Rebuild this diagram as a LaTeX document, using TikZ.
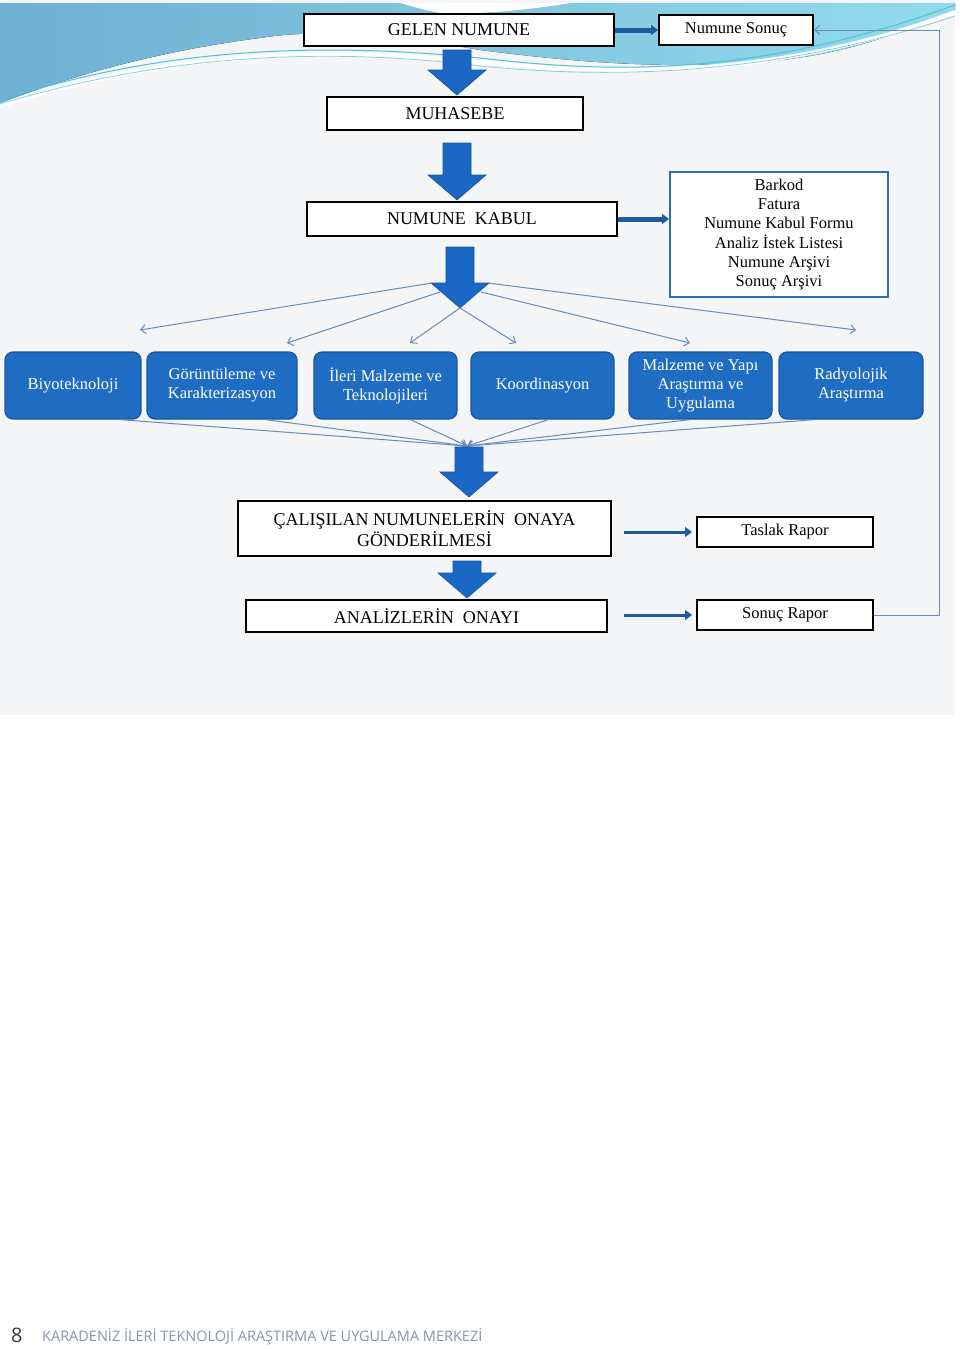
\documentclass[tikz,border=0pt]{standalone}
\usepackage{fontspec}
\setmainfont{Liberation Serif}
\newfontfamily\footfont{Open Sans}
\usetikzlibrary{arrows.meta,calc}
\definecolor{panel}{HTML}{F3F5F7}
\definecolor{waveL}{HTML}{6FB0D2}
\definecolor{waveR}{HTML}{92DBEC}
\definecolor{waveline}{HTML}{4FC0D8}
\definecolor{unitblue}{HTML}{1E6DC3}
\definecolor{unitedge}{HTML}{1A549A}
\definecolor{bigblue}{HTML}{1B68C4}
\definecolor{sideblue}{HTML}{1F5B9F}
\definecolor{thinblue}{HTML}{6A8DB8}
\definecolor{listedge}{HTML}{2C6CB2}
\definecolor{footgrey}{HTML}{8696A8}
\definecolor{pagenum}{HTML}{3A3A3A}
\tikzset{
  stepbox/.style={draw=black, line width=2pt, fill=white, inner sep=0pt, align=center, font=\fontsize{18}{21}\selectfont},
  smallbox/.style={stepbox, font=\fontsize{16.5}{19}\selectfont},
  listbox/.style={draw=listedge, line width=2pt, fill=white, inner sep=0pt, align=center, font=\fontsize{16.5}{19.2}\selectfont},
  unitbox/.style={draw=unitedge, line width=1.2pt, fill=unitblue, rounded corners=8pt, text=white, inner sep=0pt, align=center, minimum height=67pt, font=\fontsize{16.5}{19}\selectfont},
  bigarrow/.style={fill=bigblue, draw=bigblue!80!black, line width=0.6pt, line join=miter},
  sidearrow/.style={draw=sideblue, line width=3pt, -{Triangle[length=7pt,width=10pt]}},
  fanline/.style={draw=thinblue, line width=1pt, -{Straight Barb[length=5pt,width=9pt]}},
  backline/.style={draw=thinblue, line width=1pt, -{Straight Barb[length=5pt,width=9pt]}},
}
% block arrow pointing down: x, top y, tip y
\newcommand{\bigdown}[3]{%
  \filldraw[bigarrow] (#1-14,#2) -- (#1+14,#2) -- (#1+14,#3-25) -- (#1+29,#3-25)
    -- (#1,#3) -- (#1-29,#3-25) -- (#1-14,#3-25) -- cycle;}

\begin{document}
\begin{tikzpicture}[x=1pt, y=-1pt]
  \useasboundingbox (0,0) rectangle (960,1349);
  % panel and top waves
  \fill[panel] (0,0) rectangle (955,715);
  \fill[left color=waveL, right color=waveR] (0,3) -- (955,3) -- (955,10)
    .. controls (900,32) and (850,55) .. (760,62)
    .. controls (650,70) and (560,60) .. (480,50)
    .. controls (400,36) and (320,28) .. (260,38)
    .. controls (150,52) and (60,80) .. (0,103) -- cycle;
  \fill[white] (400,3) -- (570,3) .. controls (530,10) and (480,14) .. (445,14)
    .. controls (425,10) .. (400,3);
  \draw[white, line width=4pt] (0,106) .. controls (150,58) and (300,44) .. (480,62)
    .. controls (620,76) and (780,78) .. (955,12);
  \draw[waveline, line width=1pt] (0,100) .. controls (150,52) and (300,40) .. (480,58)
    .. controls (600,72) and (750,80) .. (955,5);
  \draw[waveline!70!white, line width=0.8pt] (0,104) .. controls (160,56) and (320,46) .. (480,66)
    .. controls (620,80) and (780,74) .. (955,16);

  % main column
  \node[stepbox, minimum width=310pt, minimum height=32pt] (gelen) at (459,30) {GELEN NUMUNE};
  \node[smallbox, minimum width=154pt, minimum height=30pt] (nsonuc) at (736,30) {Numune Sonuç};
  \bigdown{457}{50}{95}
  \node[stepbox, minimum width=256pt, minimum height=33pt] (muh) at (455,113.5) {MUHASEBE};
  \bigdown{457}{143}{200}
  \node[stepbox, minimum width=310pt, minimum height=34pt] (kabul) at (462,219) {NUMUNE\ \ KABUL};
  \node[listbox, minimum width=218pt, minimum height=125pt] (liste) at (779,234.5)
    {Barkod\\Fatura\\Numune Kabul Formu\\Analiz İstek Listesi\\Numune Arşivi\\Sonuç Arşivi};
  \bigdown{460}{247}{308}

  \draw[sidearrow, line width=5pt] (gelen) -- (nsonuc);
  \draw[sidearrow, line width=5pt] (kabul.east) -- (kabul.east -| liste.west);

  % units
  \node[unitbox, minimum width=136pt] (u1) at (73,385.5) {Biyoteknoloji};
  \node[unitbox, minimum width=150pt] (u2) at (222,385.5) {Görüntüleme ve\\Karakterizasyon};
  \node[unitbox, minimum width=143pt] (u3) at (385.5,385.5) {İleri Malzeme ve\\Teknolojileri};
  \node[unitbox, minimum width=143pt] (u4) at (542.5,385.5) {Koordinasyon};
  \node[unitbox, minimum width=143pt] (u5) at (700.5,385.5) {Malzeme ve Yapı\\Araştırma ve\\Uygulama};
  \node[unitbox, minimum width=144pt] (u6) at (851,385.5) {Radyolojik\\Araştırma};

  % fan out
  \coordinate (hl1) at (432,283);
  \coordinate (hl2) at (440,292);
  \coordinate (htip) at (460,308);
  \coordinate (hr2) at (481,292);
  \coordinate (hr1) at (488,283);
  \coordinate (f1) at (140,330);
  \coordinate (f2) at (287,343);
  \coordinate (f3) at (410,343);
  \coordinate (f4) at (516,343);
  \coordinate (f5) at (690,343);
  \coordinate (f6) at (856,330);
  \draw[fanline] (hl1) -- (f1);
  \draw[fanline] (hl2) -- (f2);
  \draw[fanline] (htip) -- (f3);
  \draw[fanline] (htip) -- (f4);
  \draw[fanline] (hr2) -- (f5);
  \draw[fanline] (hr1) -- (f6);

  % fan in
  \coordinate (mrg) at (467,446);
  \draw[fanline] ([xshift=47pt]u1.south) -- (mrg);
  \draw[fanline] ([xshift=43pt]u2.south) -- (mrg);
  \draw[fanline] ([xshift=25pt]u3.south) -- (mrg);
  \draw[fanline] ([xshift=6pt]u4.south) -- (mrg);
  \draw[fanline] ([xshift=-10pt]u5.south) -- (mrg);
  \draw[fanline] ([xshift=-36pt]u6.south) -- (mrg);

  \bigdown{469}{447}{497}
  \node[stepbox, minimum width=373pt, minimum height=55pt] (calis) at (424.5,528.5)
    {ÇALIŞILAN NUMUNELERİN\ \ ONAYA\\GÖNDERİLMESİ};
  \node[smallbox, minimum width=176pt, minimum height=30pt] (taslak) at (785,532) {Taslak Rapor};
  \bigdown{467}{561}{598}
  \node[stepbox, minimum width=361pt, minimum height=32pt] (onay) at (426.5,616) {ANALİZLERİN\ \ ONAYI};
  \node[smallbox, minimum width=176pt, minimum height=30pt] (srapor) at (785,615) {Sonuç Rapor};

  \draw[sidearrow, shorten <=12pt, shorten >=4pt] (taslak.west -| calis.east) -- (taslak.west);
  \draw[sidearrow, shorten <=16pt, shorten >=4pt] (srapor.west -| onay.east) -- (srapor.west);

  % back to Numune Sonuc
  \draw[backline] (srapor.east) -- ++(65,0) |- (nsonuc.east);

  % footer
  \node[anchor=base west, inner sep=0pt, text=pagenum, font=\footfont\fontsize{20}{22}\selectfont] (pno) at (11,1342) {8};
  \node[anchor=base west, inner sep=0pt, text=footgrey, font=\footfont\fontsize{14.5}{16}\selectfont] (ftitle) at (42,1341)
    {KARADENİZ İLERİ TEKNOLOJİ ARAŞTIRMA VE UYGULAMA MERKEZİ};
\end{tikzpicture}
\end{document}
